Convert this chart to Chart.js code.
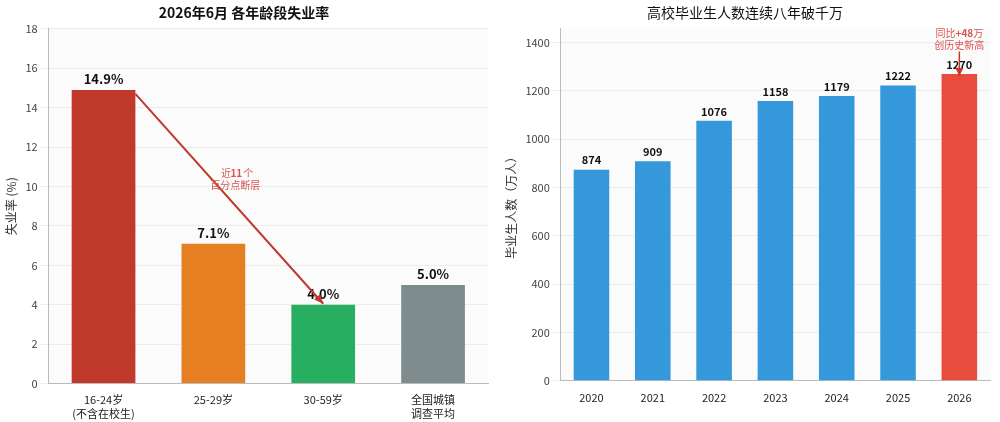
<!DOCTYPE html>
<html><head><meta charset="utf-8">
<script src="https://cdn.jsdelivr.net/npm/chart.js@4"></script>
<style>
body{margin:0;background:#fff;font-family:"Noto Sans CJK SC","DejaVu Sans",sans-serif}
#wrap{display:flex;width:1000px;height:422px}
.c{position:relative;width:500px;height:422px}
</style></head><body>
<div id="wrap"><div class="c"><canvas id="a"></canvas></div><div class="c"><canvas id="b"></canvas></div></div>
<script>
const ageCats=[["16-24岁","(不含在校生)"],"25-29岁","30-59岁",["全国城镇","调查平均"]];
const ageRates=[14.9,7.1,4.0,5.0];
const ageColors=["#c0392b","#e67e22","#27ae60","#7f8c8d"];
const years=["2020","2021","2022","2023","2024","2025","2026"];
const grads=[874,909,1076,1158,1179,1222,1270];
const gradColors=["#3498db","#3498db","#3498db","#3498db","#3498db","#3498db","#e74c3c"];
const F='"Noto Sans CJK SC","DejaVu Sans",sans-serif';
Chart.defaults.font.family=F;Chart.defaults.color="#333";
const bg={id:'bg',beforeDraw(c){const a=c.chartArea,x=c.ctx;x.save();x.fillStyle='#fbfbfb';x.fillRect(a.left,a.top,a.width,a.height);x.restore();}};
const labels={id:'lab',afterDatasetsDraw(c,_,o){const x=c.ctx,m=c.getDatasetMeta(0);x.save();x.font='bold '+o.size+'px '+F;x.fillStyle='#111';x.textAlign='center';x.textBaseline='bottom';
m.data.forEach((b,i)=>x.fillText(o.fmt(c.data.datasets[0].data[i]),b.x,b.y-4));x.restore();}};
function axes(max,step,title){return{x:{grid:{display:false},border:{color:'#bbb'},ticks:{color:'#222',font:{size:11},padding:2}},
y:{min:0,max:max,afterBuildTicks:s=>{s.ticks=s.ticks.filter(t=>t.value%step===0);},ticks:{stepSize:step,color:'#444',font:{size:11},callback:v=>String(v)},grid:{color:'#ececec'},border:{color:'#bbb'},title:{display:true,text:title,font:{size:12},color:'#333'}}};}
new Chart(document.getElementById('a'),{type:'bar',
data:{labels:ageCats,datasets:[{data:ageRates,backgroundColor:ageColors,barPercentage:0.58,categoryPercentage:1}]},
options:{responsive:true,maintainAspectRatio:false,animation:false,layout:{padding:{left:0,right:12,top:0,bottom:0}},
plugins:{legend:{display:false},tooltip:{enabled:false},title:{display:true,text:'2026年6月 各年龄段失业率',font:{size:14,weight:'bold'},color:'#111',padding:{top:4,bottom:8}},
lab:{size:13,fmt:v=>v.toFixed(1)+'%'}},scales:axes(18,2,'失业率 (%)')},
plugins:[bg,labels,{id:'arr',afterDatasetsDraw(c){const x=c.ctx,xs=c.scales.x,ys=c.scales.y;
const x1=xs.getPixelForValue(0)+c.getDatasetMeta(0).data[0].width/2,y1=ys.getPixelForValue(14.7);
const x2=xs.getPixelForValue(2),y2=ys.getPixelForValue(4.05);
x.save();x.strokeStyle='#c0392b';x.fillStyle='#c0392b';x.lineWidth=2;x.beginPath();x.moveTo(x1,y1);x.lineTo(x2,y2);x.stroke();
const an=Math.atan2(y2-y1,x2-x1);x.beginPath();x.moveTo(x2,y2);x.lineTo(x2-10*Math.cos(an-0.4),y2-10*Math.sin(an-0.4));x.lineTo(x2-10*Math.cos(an+0.4),y2-10*Math.sin(an+0.4));x.fill();
x.font='10px '+F;x.textAlign='center';x.fillStyle='#d9534f';const mx=xs.getPixelForValue(1.2),my=ys.getPixelForValue(10.5);
x.fillText('近',mx-9,my);x.font='bold 10px '+F;x.fillText('11',mx+1,my);x.font='10px '+F;x.fillText('个',mx+13,my);x.fillText('百分点断层',mx,my+12);x.restore();}}]});
new Chart(document.getElementById('b'),{type:'bar',
data:{labels:years,datasets:[{data:grads,backgroundColor:gradColors,barPercentage:0.58,categoryPercentage:1}]},
options:{responsive:true,maintainAspectRatio:false,animation:false,layout:{padding:{left:0,right:10,top:0,bottom:16}},
plugins:{legend:{display:false},tooltip:{enabled:false},title:{display:true,text:'高校毕业生人数连续八年破千万',font:{size:14,weight:'normal'},color:'#111',padding:{top:4,bottom:8}},
lab:{size:11,fmt:v=>String(v)}},scales:axes(1457,200,'毕业生人数（万人）')},
plugins:[bg,labels,{id:'ann',afterDatasetsDraw(c){const x=c.ctx,xs=c.scales.x,ys=c.scales.y;const px=xs.getPixelForValue(6);
x.save();x.fillStyle='#d9534f';x.font='10px '+F;x.textAlign='left';const y0=ys.getPixelForValue(1400)-6;
const w1=x.measureText('同比').width;x.font='bold 10px '+F;const w2=x.measureText('+48').width;x.font='10px '+F;const w3=x.measureText('万').width;
let sx=px-(w1+w2+w3)/2;x.fillText('同比',sx,y0);x.font='bold 10px '+F;x.fillText('+48',sx+w1,y0);x.font='10px '+F;x.fillText('万',sx+w1+w2,y0);
x.textAlign='center';x.fillText('创历史新高',px,y0+12);
x.strokeStyle='#c0392b';x.lineWidth=1.5;const ya=y0+15,yb=ys.getPixelForValue(1270)+2;x.beginPath();x.moveTo(px,ya);x.lineTo(px,yb);x.stroke();
x.fillStyle='#c0392b';x.beginPath();x.moveTo(px,yb);x.lineTo(px-4,yb-8);x.lineTo(px+4,yb-8);x.fill();x.restore();}}]});
</script></body></html>
